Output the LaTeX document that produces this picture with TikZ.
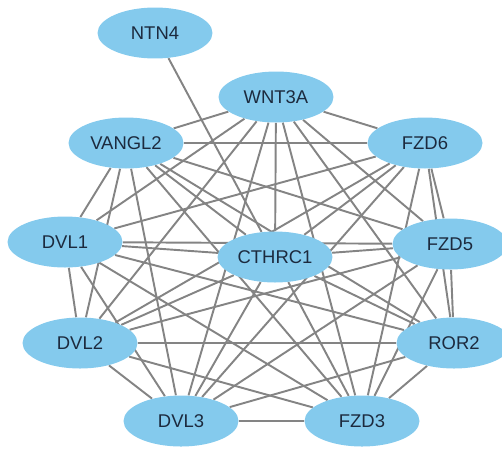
\documentclass[tikz,border=0pt]{standalone}
\usepackage{fontspec}
\setmainfont{Liberation Sans}
\usepackage{xcolor}
\usetikzlibrary{positioning}
\usetikzlibrary{shapes.geometric}
\pgfdeclarelayer{foreground}
\pgfsetlayers{main,foreground}
\definecolor{genefill}{RGB}{132,202,237}
\definecolor{genetext}{RGB}{28,42,62}
\definecolor{linkgray}{RGB}{132,132,132}

\begin{document}
\begin{tikzpicture}[x=0.02cm, y=-0.02cm,
    gene/.style={
        ellipse, fill=genefill,
        inner sep=0pt,
        minimum width=2.3cm, minimum height=1.02cm,
        text=genetext,
        font=\fontsize{10.5}{12}\selectfont
    },
    link/.style={linkgray, line width=1.1pt}
]
\useasboundingbox (0,0) rectangle (502,450);
\begin{pgfonlayer}{foreground}
				\node[gene] (ntn4) at (155,33) {NTN4};
				\node[gene] (wnt3a) at (276,97) {WNT3A};
				\node[gene] (vangl2) at (126,143) {VANGL2};
				\node[gene] (fzd6) at (425,143) {FZD6};
				\node[gene] (dvl1) at (65,242) {DVL1};
				\node[gene] (cthrc1) at (275,257) {CTHRC1};
				\node[gene] (fzd5) at (450,244) {FZD5};
				\node[gene] (dvl2) at (80,343) {DVL2};
				\node[gene] (ror2) at (454,343) {ROR2};
				\node[gene] (dvl3) at (181,421) {DVL3};
				\node[gene] (fzd3) at (362,421) {FZD3};
\end{pgfonlayer}

				% outer ring
				\draw[link] (vangl2) -- (wnt3a) -- (fzd6) -- (fzd5) -- (ror2) -- (fzd3) -- (dvl3) -- (dvl2) -- (dvl1) -- (vangl2);
				\draw[link] (ntn4) -- (cthrc1);

				% chords
				\draw[link] (wnt3a) -- (dvl1) (wnt3a) -- (cthrc1) (wnt3a) -- (fzd5) (wnt3a) -- (dvl2);
				\draw[link] (wnt3a) -- (ror2) (wnt3a) -- (dvl3) (wnt3a) -- (fzd3);
				\draw[link] (vangl2) -- (fzd6) (vangl2) -- (cthrc1) (vangl2) -- (fzd5) (vangl2) -- (dvl2);
				\draw[link] (vangl2) -- (ror2) (vangl2) -- (dvl3) (vangl2) -- (fzd3);
				\draw[link] (fzd6) -- (dvl1) (fzd6) -- (cthrc1) (fzd6) -- (dvl2) (fzd6) -- (ror2);
				\draw[link] (fzd6) -- (dvl3) (fzd6) -- (fzd3);
				\draw[link] (dvl1) -- (cthrc1) (dvl1) -- (fzd5) (dvl1) -- (ror2) (dvl1) -- (dvl3) (dvl1) -- (fzd3);
				\draw[link] (cthrc1) -- (fzd5) (cthrc1) -- (dvl2) (cthrc1) -- (ror2) (cthrc1) -- (dvl3) (cthrc1) -- (fzd3);
				\draw[link] (fzd5) -- (dvl2) (fzd5) -- (dvl3) (fzd5) -- (fzd3);
				\draw[link] (dvl2) -- (ror2) (dvl2) -- (fzd3);
				\draw[link] (ror2) -- (dvl3);
\end{tikzpicture}
\end{document}
